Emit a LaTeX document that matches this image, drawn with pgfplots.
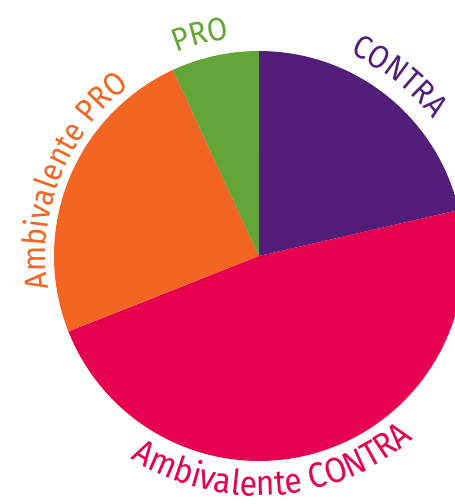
\documentclass[border=0pt]{standalone}
\usepackage{fontspec}
\setmainfont{Fira Sans}
\newfontfamily\labfam[FakeStretch=0.9]{Fira Sans}
\usepackage{pgfplots}
\usepackage{pgfplotstable}
\pgfplotsset{compat=1.18}
\usetikzlibrary{decorations.text}

\definecolor{cpurple}{HTML}{531E79}
\definecolor{cpink}{HTML}{E6004F}
\definecolor{corange}{HTML}{F26522}
\definecolor{cgreen}{HTML}{64A537}

% clockwise from 12 o'clock
\pgfplotstableread{
label     value
CONTRA    21.4
AmbCONTRA 47.6
AmbPRO    24.1
PRO       6.9
}\piedata

\pgfplotsset{
  slice/.style={draw=none, fill=#1, domain=0:1, samples=90, variable=\t},
  lab/.style n args={3}{draw=none, domain=0:1, samples=60, variable=\t,
    postaction={decorate},
    decoration={text along path, text align=center,
      text={|\labfam\fontsize{#3}{#3}\selectfont\color{#1}|#2}}},
}

\begin{document}
\begin{tikzpicture}
  \pgfplotstablegetelem{0}{value}\of\piedata \let\vA\pgfplotsretval
  \pgfplotstablegetelem{1}{value}\of\piedata \let\vB\pgfplotsretval
  \pgfplotstablegetelem{2}{value}\of\piedata \let\vC\pgfplotsretval
  \pgfplotstablegetelem{3}{value}\of\piedata \let\vD\pgfplotsretval
  \pgfmathsetmacro\aO{90}
  \pgfmathsetmacro\aA{\aO-3.6*\vA}
  \pgfmathsetmacro\aB{\aA-3.6*\vB}
  \pgfmathsetmacro\aC{\aB-3.6*\vC}
  \pgfmathsetmacro\aD{\aC-3.6*\vD}
  \begin{axis}[
    hide axis,
    clip=true,
    scale only axis,
    width=4.55in, height=5.04in,
    xmin=-1.2634, xmax=0.9561,
    ymin=-1.2098, ymax=1.2488,
  ]
    % slices
    \addplot[slice=cpurple] ({cos(\aO+(\aA-\aO)*\t)},{sin(\aO+(\aA-\aO)*\t)}) -- (axis cs:0,0) -- cycle;
    \addplot[slice=cpink]   ({cos(\aA+(\aB-\aA)*\t)},{sin(\aA+(\aB-\aA)*\t)}) -- (axis cs:0,0) -- cycle;
    \addplot[slice=corange] ({cos(\aB+(\aC-\aB)*\t)},{sin(\aB+(\aC-\aB)*\t)}) -- (axis cs:0,0) -- cycle;
    \addplot[slice=cgreen]  ({cos(\aC+(\aD-\aC)*\t)},{sin(\aC+(\aD-\aC)*\t)}) -- (axis cs:0,0) -- cycle;

    % curved labels (clockwise paths outside, counterclockwise one at bottom)
    \addplot[lab={cgreen}{PRO}{23.5}]    ({1.07*cos(150-90*\t)},{1.07*sin(150-90*\t)});
    \addplot[lab={cpurple}{CONTRA}{23.5}] ({1.08*cos(100-96*\t)},{1.08*sin(100-96*\t)});
    \addplot[lab={corange}{Ambivalente PRO}{23.5}] ({1.04*cos(230-144*\t)},{1.04*sin(230-144*\t)});
    \addplot[lab={cpink}{Ambivalente CONTRA}{25.5}] ({1.17*cos(-160+148*\t)},{1.17*sin(-160+148*\t)});
  \end{axis}
  \pgfresetboundingbox
  \path (current axis.south west) rectangle (current axis.north east);
\end{tikzpicture}
\end{document}
